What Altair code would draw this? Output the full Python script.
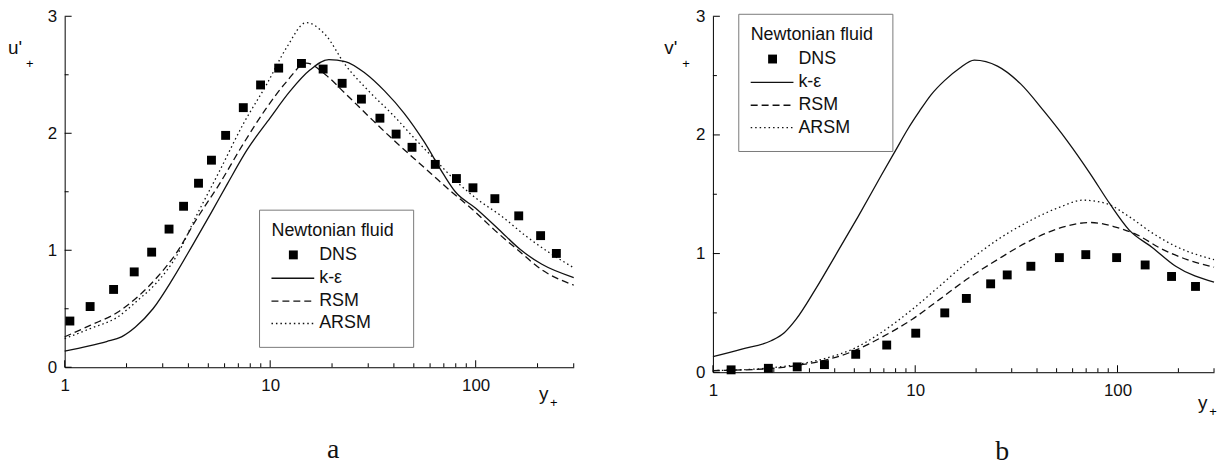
import altair as alt
import pandas as pd

FONT = "Liberation Sans"
SERIF = "Liberation Serif"
INK = "#111111"

# ---------------- data: panel a (u'+) ----------------
a_dns_x = [1.06, 1.33, 1.73, 2.18, 2.65, 3.22, 3.79, 4.48, 5.18, 6.07, 7.40, 8.98, 11.0, 14.2,
           18.1, 22.4, 27.8, 34.2, 41.0, 49.0, 63.6, 80.6, 97.0, 124, 162, 207, 247]
a_dns_y = [0.395, 0.519, 0.665, 0.815, 0.984, 1.181, 1.376, 1.573, 1.770, 1.982, 2.219, 2.413,
           2.557, 2.597, 2.549, 2.427, 2.292, 2.129, 1.993, 1.880, 1.734, 1.613, 1.534, 1.441,
           1.294, 1.125, 0.973]
a_ke_x = [1.0, 1.3, 1.6, 1.89, 2.21, 2.69, 3.35, 4.18, 5.2, 6.2, 7.73, 9.98, 12.5, 15.6, 19.3,
          23.2, 28.9, 36.1, 44.9, 56, 69.7, 79.6, 100, 130, 165, 210, 300]
a_ke_y = [0.138, 0.18, 0.22, 0.26, 0.344, 0.5, 0.753, 1.04, 1.33, 1.57, 1.86, 2.13, 2.36,
          2.54, 2.63, 2.613, 2.515, 2.36, 2.17, 1.93, 1.65, 1.50, 1.36, 1.176, 1.006, 0.88, 0.767]
a_rsm_x = [1.0, 1.33, 1.81, 2.26, 2.81, 3.5, 4.36, 5.68, 7.4, 9.63, 12.0, 15.0, 18.6, 23.2,
           31.6, 39.4, 49.0, 61.1, 76.2, 94.9, 124, 161, 209, 300]
a_rsm_y = [0.26, 0.358, 0.47, 0.60, 0.767, 0.978, 1.26, 1.57, 1.91, 2.22, 2.44, 2.60, 2.50,
           2.34, 2.11, 1.95, 1.80, 1.65, 1.50, 1.36, 1.17, 1.0, 0.835, 0.702]
a_arsm_x = [1.0, 1.33, 1.81, 2.26, 2.81, 3.5, 4.36, 5.68, 7.4, 9.63, 12.0, 15.0, 18.6, 23.2,
            30.2, 39.4, 51.4, 63.8, 79.2, 103, 134, 176, 229, 300]
a_arsm_y = [0.245, 0.33, 0.43, 0.57, 0.725, 0.95, 1.29, 1.68, 2.08, 2.42, 2.73, 2.946, 2.84,
            2.585, 2.36, 2.16, 1.94, 1.77, 1.60, 1.43, 1.29, 1.12, 0.978, 0.85]

# ---------------- data: panel b (v'+) ----------------
b_dns_x = [1.23, 1.88, 2.61, 3.56, 5.08, 7.23, 10.06, 14.0, 17.9, 23.6, 28.5, 37.3, 51.6, 69.7,
           99, 137, 185, 243]
b_dns_y = [0.02, 0.033, 0.045, 0.064, 0.151, 0.229, 0.329, 0.5, 0.622, 0.745, 0.82, 0.893,
           0.966, 0.991, 0.966, 0.904, 0.807, 0.723]
b_ke_x = [1.0, 1.39, 1.94, 2.26, 2.58, 3.21, 4.01, 5.22, 6.8, 8.0, 9.2, 10.5, 12.0, 14.0, 16.5,
          19.6, 25.5, 33.2, 43.3, 56.4, 73.5, 91.6, 114, 149, 194, 300]
b_ke_y = [0.131, 0.195, 0.265, 0.335, 0.447, 0.698, 0.977, 1.312, 1.66, 1.87, 2.05, 2.20, 2.34,
          2.46, 2.56, 2.63, 2.58, 2.43, 2.20, 1.95, 1.67, 1.42, 1.20, 1.05, 0.893, 0.759]
b_rsm_x = [1.0, 1.81, 2.58, 3.51, 5.0, 6.8, 9.68, 13.2, 17.9, 25.5, 36.3, 51.6, 73.5, 95.7,
           125, 162, 221, 300]
b_rsm_y = [0.014, 0.028, 0.056, 0.098, 0.181, 0.293, 0.447, 0.614, 0.781, 0.949, 1.102, 1.214,
           1.262, 1.228, 1.158, 1.047, 0.949, 0.885]
b_arsm_x = [1.0, 1.81, 2.58, 3.51, 5.0, 6.8, 9.68, 13.2, 17.9, 25.5, 36.3, 51.6, 67.3, 87.6,
            114, 149, 194, 300]
b_arsm_y = [0.014, 0.033, 0.064, 0.112, 0.201, 0.335, 0.53, 0.726, 0.921, 1.116, 1.27, 1.39,
            1.45, 1.423, 1.312, 1.172, 1.061, 0.949]

# ---------------- axes / legend text ----------------
x_major = [1, 10, 100]
x_minor = [2, 3, 4, 5, 6, 7, 8, 9, 20, 30, 40, 50, 60, 70, 80, 90, 200, 300]
y_major = [0, 1, 2, 3]
y_minor = [0.5, 1.5, 2.5]
x_domain = [1, 300]
y_domain = [0, 3]
legend_title = "Newtonian fluid"
legend_labels = ["DNS", "k-ε", "RSM", "ARSM"]

ONE = pd.DataFrame({"k": [0]})


def panel(dns_x, dns_y, ke_x, ke_y, rsm_x, rsm_y, ar_x, ar_y,
          W, H, ylab, letter, bx, by, ylab_dx, xlab_dx, xlab_dy, letter_dx, letter_dy):
    xs = alt.Scale(type="log", domain=x_domain, nice=False)
    ys = alt.Scale(domain=y_domain, nice=False, zero=False)
    xaxis = alt.Axis(values=x_major, format="d", tickSize=0, labelPadding=10, title=None,
                     grid=False, labelFontSize=17, labelFont=FONT, labelColor=INK,
                     labelFlush=False, domainColor="black", labelOverlap=False)
    yaxis = alt.Axis(values=y_major, format="d", tickSize=0, labelPadding=8, title=None,
                     grid=False, labelFontSize=17, labelFont=FONT, labelColor=INK,
                     labelFlush=False, domainColor="black", labelOverlap=False)
    X = alt.X("x:Q", scale=xs, axis=xaxis)
    Y = alt.Y("y:Q", scale=ys, axis=yaxis)

    def line(xv, yv, dash):
        kw = dict(color=INK, strokeWidth=1.3, interpolate="monotone")
        if dash:
            kw["strokeDash"] = dash
        return alt.Chart(pd.DataFrame({"x": xv, "y": yv})).mark_line(**kw).encode(x=X, y=Y)

    layers = [
        line(ke_x, ke_y, None),
        line(rsm_x, rsm_y, [7, 4]),
        line(ar_x, ar_y, [1.5, 3]),
        alt.Chart(pd.DataFrame({"x": dns_x, "y": dns_y})).mark_square(
            size=80, color="black", opacity=1).encode(x=X, y=Y),
        # inward ticks
        alt.Chart(pd.DataFrame({"x": x_major})).mark_rule(color="black").encode(
            x=X, y=alt.value(H), y2=alt.value(H - 7)),
        alt.Chart(pd.DataFrame({"x": x_minor})).mark_rule(color="black").encode(
            x=X, y=alt.value(H), y2=alt.value(H - 4)),
        alt.Chart(pd.DataFrame({"y": y_major})).mark_rule(color="black").encode(
            y=Y, x=alt.value(0), x2=alt.value(7)),
        alt.Chart(pd.DataFrame({"y": y_minor})).mark_rule(color="black").encode(
            y=Y, x=alt.value(0), x2=alt.value(4)),
    ]

    # legend box
    layers.append(alt.Chart(ONE).mark_rect(fill="white", stroke="#7a7a7a", strokeWidth=1).encode(
        x=alt.value(bx), x2=alt.value(bx + 155), y=alt.value(by), y2=alt.value(by + 138)))
    txt = dict(align="left", baseline="middle", fontSize=18, font=FONT, color=INK)
    layers.append(alt.Chart(ONE).mark_text(text=legend_title, **txt).encode(
        x=alt.value(bx + 12), y=alt.value(by + 21)))
    rows = [by + 45, by + 68.5, by + 91.5, by + 114]
    layers.append(alt.Chart(ONE).mark_square(size=80, color="black", opacity=1).encode(
        x=alt.value(bx + 34), y=alt.value(rows[0])))
    dashes = [None, [7, 4], [1.5, 3]]
    for i, d in enumerate(dashes):
        kw = dict(color=INK, strokeWidth=1.3)
        if d:
            kw["strokeDash"] = d
        layers.append(alt.Chart(ONE).mark_rule(**kw).encode(
            x=alt.value(bx + 12), x2=alt.value(bx + 55), y=alt.value(rows[i + 1])))
    for i, lab in enumerate(legend_labels):
        layers.append(alt.Chart(ONE).mark_text(text=lab, **txt).encode(
            x=alt.value(bx + 60), y=alt.value(rows[i])))

    # axis titles with subscripts
    layers.append(alt.Chart(ONE).mark_text(text=ylab, align="left", baseline="alphabetic",
                                           fontSize=19, font=FONT, color=INK).encode(
        x=alt.value(ylab_dx), y=alt.value(38)))
    layers.append(alt.Chart(ONE).mark_text(text="+", align="center", baseline="middle",
                                           fontSize=13, font=FONT, color="black").encode(
        x=alt.value(ylab_dx + 22), y=alt.value(48)))
    layers.append(alt.Chart(ONE).mark_text(text="y", align="left", baseline="alphabetic",
                                           fontSize=19, font=FONT, color=INK).encode(
        x=alt.value(xlab_dx), y=alt.value(H + xlab_dy)))
    layers.append(alt.Chart(ONE).mark_text(text="+", align="center", baseline="middle",
                                           fontSize=13, font=FONT, color="black").encode(
        x=alt.value(xlab_dx + 15), y=alt.value(H + xlab_dy + 3)))
    # sub-figure letter
    layers.append(alt.Chart(ONE).mark_text(text=letter, align="center", baseline="alphabetic",
                                           fontSize=28, font=SERIF, color=INK).encode(
        x=alt.value(letter_dx), y=alt.value(letter_dy)))

    return alt.layer(*layers).properties(width=W, height=H)


left = panel(a_dns_x, a_dns_y, a_ke_x, a_ke_y, a_rsm_x, a_rsm_y, a_arsm_x, a_arsm_y,
             W=512, H=353, ylab="u'", letter="a", bx=196, by=195,
             ylab_dx=-57, xlab_dx=477, xlab_dy=33, letter_dx=270, letter_dy=444)
right = panel(b_dns_x, b_dns_y, b_ke_x, b_ke_y, b_rsm_x, b_rsm_y, b_arsm_x, b_arsm_y,
              W=504, H=358, ylab="v'", letter="b", bx=26, by=-2,
              ylab_dx=-49, xlab_dx=488, xlab_dy=37, letter_dx=291, letter_dy=446)

chart = alt.hconcat(left, right, spacing=88).properties(
    padding={"top": -2, "left": 0, "right": 0, "bottom": 0}, background="white"
).configure_view(stroke=None).configure_axis(domainColor="black", domainWidth=1)

chart.save("out.html", embed_options={"renderer": "svg", "actions": False})
